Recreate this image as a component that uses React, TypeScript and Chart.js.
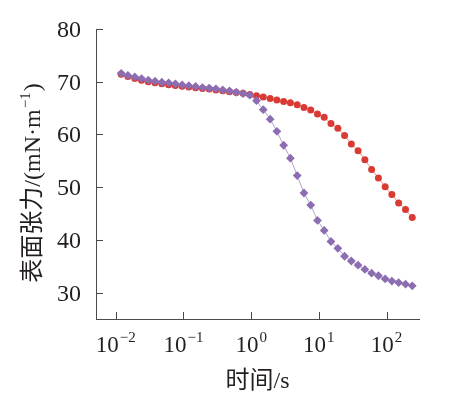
import React, { useEffect, useRef } from "react";
import { Chart, registerables } from "chart.js";

Chart.register(...registerables);

// time (s), ~10 points per decade
const TIME_S = [
  0.012, 0.0151, 0.0191, 0.024, 0.0302, 0.038, 0.0479, 0.0603, 0.0759, 0.0955,
  0.12, 0.151, 0.191, 0.24, 0.302, 0.38, 0.479, 0.603, 0.759, 0.955,
  1.2, 1.51, 1.91, 2.4, 3.02, 3.8, 4.79, 6.03, 7.59, 9.55,
  12.0, 15.1, 19.1, 24.0, 30.2, 38.0, 47.9, 60.3, 75.9, 95.5,
  120, 151, 191, 240,
];

// purple diamonds
const SERIES_PURPLE = [
  71.6, 71.2, 70.9, 70.6, 70.3, 70.1, 69.9, 69.8, 69.6, 69.4,
  69.25, 69.1, 68.9, 68.8, 68.65, 68.45, 68.25, 68.0, 67.75, 67.45,
  66.4, 64.7, 62.9, 60.6, 57.95, 55.5, 52.2, 48.9, 46.6, 43.7,
  41.8, 39.7, 38.4, 36.9, 36.0, 35.2, 34.4, 33.7, 33.2, 32.6,
  32.2, 31.9, 31.6, 31.3,
];

// red circles
const SERIES_RED = [
  71.4, 71.0, 70.6, 70.3, 70.0, 69.8, 69.6, 69.45, 69.3, 69.15,
  69.0, 68.85, 68.7, 68.6, 68.45, 68.3, 68.1, 67.95, 67.8, 67.6,
  67.35, 67.1, 66.8, 66.55, 66.25, 66.0, 65.65, 65.1, 64.65, 63.9,
  63.25, 62.1, 61.2, 59.8, 58.2, 56.9, 55.2, 53.35, 51.75, 50.1,
  48.6, 47.0, 45.75, 44.25,
];

const Y_TICKS = [30, 40, 50, 60, 70, 80];
const X_TICK_EXPONENTS = [-2, -1, 0, 1, 2];
const Y_MIN = 25;
const Y_MAX = 80;
const X_MIN = 0.0051;
const X_MAX = 302;

const X_TITLE = "时间/s";
const Y_TITLE_PARTS = ["表面张力/(mN·m", "−1", ")"];

const AXIS_COLOR = "#4a4a4a";
const TEXT_COLOR = "#231f20";
const SERIF = '"Liberation Serif", "Noto Sans CJK SC", serif';

const customAxes = {
  id: "customAxes",
  afterDraw(chart: any) {
    const ctx: CanvasRenderingContext2D = chart.ctx;
    const xs = chart.scales.x;
    const ys = chart.scales.y;
    const { left, bottom } = chart.chartArea;
    ctx.save();
    ctx.strokeStyle = AXIS_COLOR;
    ctx.lineWidth = 1;
    // inward ticks
    Y_TICKS.forEach((v) => {
      const py = Math.round(ys.getPixelForValue(v)) + 0.5;
      ctx.beginPath();
      ctx.moveTo(left, py);
      ctx.lineTo(left + 7, py);
      ctx.stroke();
    });
    X_TICK_EXPONENTS.forEach((e) => {
      const px = Math.round(xs.getPixelForValue(Math.pow(10, e))) + 0.5;
      ctx.beginPath();
      ctx.moveTo(px, bottom);
      ctx.lineTo(px, bottom - 7);
      ctx.stroke();
    });

    ctx.fillStyle = TEXT_COLOR;
    // y tick labels
    ctx.font = `24px ${SERIF}`;
    ctx.textAlign = "right";
    ctx.textBaseline = "alphabetic";
    Y_TICKS.forEach((v) => {
      ctx.fillText(String(v), left - 15, ys.getPixelForValue(v) + 8);
    });

    // x tick labels with superscript
    ctx.textAlign = "left";
    X_TICK_EXPONENTS.forEach((e) => {
      const px = xs.getPixelForValue(Math.pow(10, e));
      const base = "10";
      const sup = e < 0 ? "−" + Math.abs(e) : String(e);
      ctx.font = `23px ${SERIF}`;
      const wb = ctx.measureText(base).width;
      ctx.font = `15px ${SERIF}`;
      const ws = ctx.measureText(sup).width;
      const start = px - (wb + ws + 1) / 2;
      const baseY = bottom + 33;
      ctx.font = `23px ${SERIF}`;
      ctx.fillText(base, start, baseY);
      ctx.font = `15px ${SERIF}`;
      ctx.fillText(sup, start + wb + 1, baseY - 10);
    });

    // x title
    ctx.font = `24px ${SERIF}`;
    ctx.textAlign = "center";
    ctx.fillText(X_TITLE, (chart.chartArea.left + chart.chartArea.right) / 2, 388);

    // y title (rotated)
    ctx.translate(40, 183);
    ctx.rotate(-Math.PI / 2);
    ctx.textAlign = "left";
    const fonts = [`24px ${SERIF}`, `15px ${SERIF}`, `24px ${SERIF}`];
    const offs = [0, -10, 0];
    const widths = Y_TITLE_PARTS.map((t, i) => {
      ctx.font = fonts[i];
      return ctx.measureText(t).width;
    });
    const total = widths.reduce((a, b) => a + b, 0) + 2;
    let cx = -total / 2;
    Y_TITLE_PARTS.forEach((t, i) => {
      ctx.font = fonts[i];
      ctx.fillText(t, cx, offs[i]);
      cx += widths[i] + 1;
    });
    ctx.restore();
  },
};

export default function App() {
  const ref = useRef<HTMLCanvasElement | null>(null);
  useEffect(() => {
    if (!ref.current) return;
    const chart = new Chart(ref.current, {
      type: "line",
      data: {
        datasets: [
          {
            label: "B",
            data: TIME_S.map((t, i) => ({ x: t, y: SERIES_PURPLE[i] })),
            borderColor: "#b3a3cf",
            borderWidth: 1,
            backgroundColor: "#8d6db2",
            pointBackgroundColor: "#8d6db2",
            pointBorderWidth: 0,
            pointStyle: "rectRot",
            pointRadius: 4.4,
            tension: 0,
            order: 0,
          },
          {
            label: "A",
            data: TIME_S.map((t, i) => ({ x: t, y: SERIES_RED[i] })),
            borderColor: "#e07a70",
            borderWidth: 0.8,
            backgroundColor: "#d93a33",
            pointBackgroundColor: "#d93a33",
            pointBorderWidth: 0,
            pointStyle: "circle",
            pointRadius: 3.5,
            tension: 0,
            order: 1,
          },
        ],
      },
      options: {
        animation: false,
        responsive: false,
        events: [],
        layout: { padding: { left: 96, right: 50, top: 29, bottom: 75 } },
        plugins: { legend: { display: false }, tooltip: { enabled: false } },
        scales: {
          x: {
            type: "logarithmic",
            min: X_MIN,
            max: X_MAX,
            grid: { display: false, drawTicks: false },
            ticks: { display: false },
            border: { display: true, color: AXIS_COLOR, width: 1 },
          },
          y: {
            type: "linear",
            min: Y_MIN,
            max: Y_MAX,
            grid: { display: false, drawTicks: false },
            ticks: { display: false },
            border: { display: true, color: AXIS_COLOR, width: 1 },
          },
        },
      },
      plugins: [customAxes],
    });
    return () => chart.destroy();
  }, []);
  return (
    <div style={{ position: "absolute", left: 0, top: 0, width: 469, height: 394, background: "#fff" }}>
      <canvas ref={ref} width={469} height={394} style={{ display: "block" }} />
    </div>
  );
}
